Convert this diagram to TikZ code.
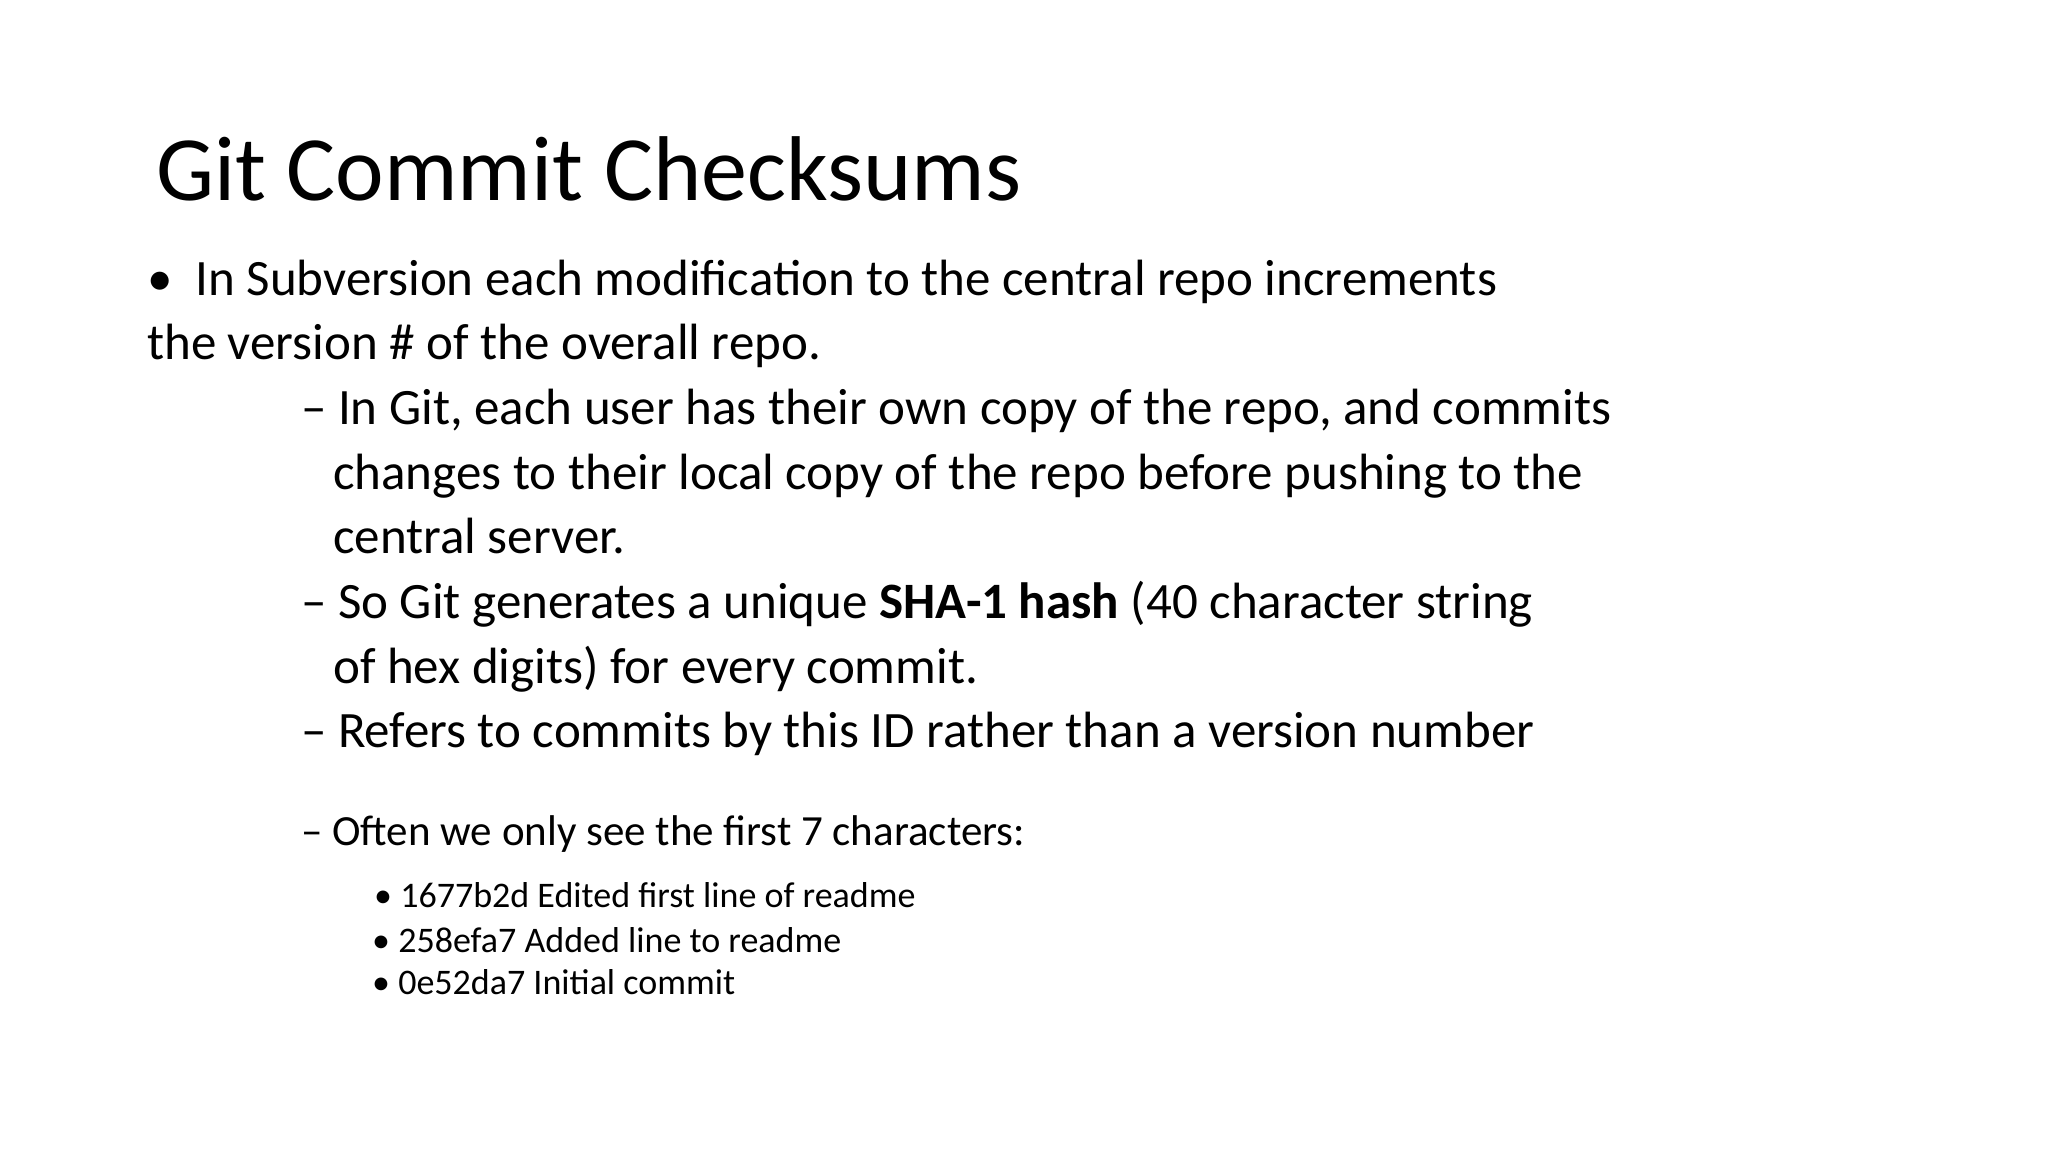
\documentclass[tikz,border=0pt]{standalone}
\usepackage{fontspec}
\setmainfont{Carlito}
\begin{document}
\begin{tikzpicture}[x=1pt,y=-1pt,
  t/.style={anchor=base west,inner sep=0pt,font=\fontsize{51}{60}\selectfont},
  s/.style={anchor=base west,inner sep=0pt,font=\fontsize{43}{50}\selectfont},
  ss/.style={anchor=base west,inner sep=0pt,font=\fontsize{36}{42}\selectfont}]
\fill[white] (0,0) rectangle (2048,1152);
\useasboundingbox (0,0) rectangle (2048,1152);
\node[anchor=base west,inner sep=0pt,font=\fontsize{92}{100}\selectfont] (title) at (156,200) {Git Commit Checksums};
\node[t] (b1) at (147,295) {\textbullet\ \ In Subversion each modification to the central repo increments};
\node[t] (b1b) at (147,359) {the version \# of the overall repo.};
\node[t] (d1) at (301,424) {– In Git, each user has their own copy of the repo, and commits};
\node[t] (d1b) at (333,489) {changes to their local copy of the repo before pushing to the};
\node[t] (d1c) at (333,553) {central server.};
\node[t] (d2) at (301,618) {– So Git generates a unique \textbf{SHA-1 hash} (40 character string};
\node[t] (d2b) at (333,683) {of hex digits) for every commit.};
\node[t] (d3) at (301,747) {– Refers to commits by this ID rather than a version number};
\node[s] (d4) at (301,845) {– Often we only see the first 7 characters:};
\node[ss] (e1) at (374,907) {\textbullet\ 1677b2d Edited first line of readme};
\node[ss] (e2) at (372,952) {\textbullet\ 258efa7 Added line to readme};
\node[ss] (e3) at (372,994) {\textbullet\ 0e52da7 Initial commit};
\end{tikzpicture}
\end{document}
